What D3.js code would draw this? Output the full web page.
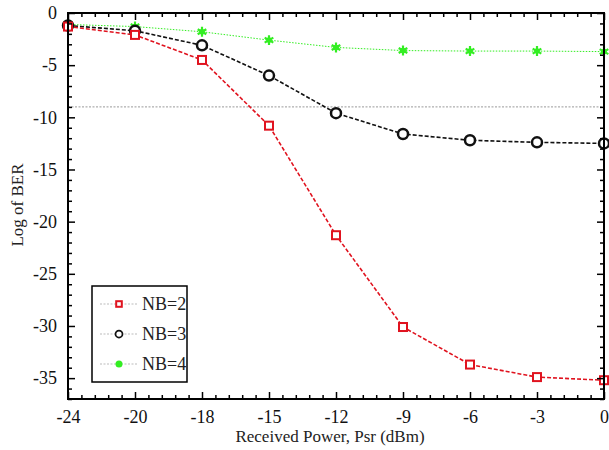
<!DOCTYPE html>
<html>
<head>
<meta charset="utf-8">
<script src="https://cdn.jsdelivr.net/npm/d3@7"></script>
<style>
  body { margin: 0; background: #fff; }
</style>
</head>
<body>
<script>
// chart data
var xLabels = ['-24', '-20', '-18', '-15', '-12', '-9', '-6', '-3', '0'];
var nb2 = [-1.3, -2.1, -4.5, -10.8, -21.3, -30.1, -33.7, -34.9, -35.2];
var nb3 = [-1.2, -1.7, -3.1, -6.0, -9.6, -11.6, -12.2, -12.4, -12.5];
var nb4 = [-1.1, -1.3, -1.8, -2.6, -3.3, -3.6, -3.65, -3.65, -3.7];
var yTicks = [0, -5, -10, -15, -20, -25, -30, -35];
var threshold = -9;
var seriesNames = ['NB=2', 'NB=3', 'NB=4'];

var FONT = 'Liberation Serif, Times New Roman, DejaVu Serif, serif';
var W = 609, H = 450;
var m = {left: 68, right: 5, top: 13, bottom: 51};

var svg = d3.select('body').append('svg').attr('width', W).attr('height', H)
  .style('font-family', FONT);

var x = d3.scalePoint().domain(xLabels).range([m.left, W - m.right]);
var y = d3.scaleLinear().domain([-37, 0]).range([H - m.bottom, m.top]);

var step = x.step();
var xMinor = [];
xLabels.forEach(function(d, i){
  if (i < xLabels.length - 1) for (var k = 1; k < 5; k++) xMinor.push(x(d) + k * step / 5);
});
var yMinor = d3.range(-37, 0, 1).filter(function(v){ return v % 5 !== 0; });

var g = svg.append('g');

// threshold line
g.append('line')
  .attr('x1', m.left).attr('x2', W - m.right)
  .attr('y1', y(threshold)).attr('y2', y(threshold))
  .style('stroke', '#999').style('stroke-width', 1).style('stroke-dasharray', '2,1.5');

// series
var series = [
  {name: seriesNames[0], vals: nb2, color: '#e0131f', dash: '4,2', w: 1.6, marker: 'square'},
  {name: seriesNames[1], vals: nb3, color: '#111', dash: '4,2', w: 1.6, marker: 'circle'},
  {name: seriesNames[2], vals: nb4, color: '#33ee22', dash: '1.5,1.5', w: 1, marker: 'star'}
];

var line = d3.line().x(function(d, i){ return x(xLabels[i]); }).y(function(d){ return y(d); });

series.slice().reverse().forEach(function(s){
  g.append('path').datum(s.vals).attr('d', line)
    .style('fill', 'none').style('stroke', s.color)
    .style('stroke-width', s.w).style('stroke-dasharray', s.dash);
});

function drawMarker(sel, s, px, py, scale){
  if (s.marker === 'square') {
    var a = 8 * scale;
    sel.append('rect').attr('x', px - a/2).attr('y', py - a/2).attr('width', a).attr('height', a)
      .style('fill', '#fff').style('stroke', s.color).style('stroke-width', 2);
  } else if (s.marker === 'circle') {
    sel.append('circle').attr('cx', px).attr('cy', py).attr('r', 5 * scale)
      .style('fill', '#fff').style('stroke', s.color).style('stroke-width', 2.5 * scale);
  } else {
    sel.append('path').attr('transform', 'translate(' + px + ',' + py + ')')
      .attr('d', d3.symbol().type(d3.symbolAsterisk).size(70 * scale * scale))
      .style('fill', 'none').style('stroke', s.color).style('stroke-width', 2.2);
    sel.append('circle').attr('cx', px).attr('cy', py).attr('r', 2.8 * scale).style('fill', s.color);
  }
}

series.slice().reverse().forEach(function(s){
  s.vals.forEach(function(v, i){ drawMarker(g, s, x(xLabels[i]), y(v), 1); });
});

// frame
svg.append('rect').attr('x', m.left).attr('y', m.top)
  .attr('width', W - m.right - m.left).attr('height', H - m.bottom - m.top)
  .style('fill', 'none').style('stroke', '#000').style('stroke-width', 2);

// axes with inward ticks
var fmt = function(d){ return d; };
var ax = svg.append('g');
ax.append('g').attr('transform', 'translate(0,' + (H - m.bottom) + ')')
  .call(d3.axisBottom(x).tickSizeInner(-7).tickSizeOuter(0).tickPadding(11));
ax.append('g').attr('transform', 'translate(0,' + m.top + ')')
  .call(d3.axisTop(x).tickSizeInner(-7).tickSizeOuter(0).tickFormat(''));
ax.append('g').attr('transform', 'translate(' + m.left + ',0)')
  .call(d3.axisLeft(y).tickValues(yTicks).tickSizeInner(-7).tickSizeOuter(0).tickPadding(11).tickFormat(fmt));
ax.append('g').attr('transform', 'translate(' + (W - m.right) + ',0)')
  .call(d3.axisRight(y).tickValues(yTicks).tickSizeInner(-7).tickSizeOuter(0).tickFormat(''));

// minor ticks
var xm = d3.scaleIdentity();
ax.append('g').attr('transform', 'translate(0,' + (H - m.bottom) + ')')
  .call(d3.axisBottom(xm).tickValues(xMinor).tickSizeInner(-4).tickSizeOuter(0).tickFormat(''));
ax.append('g').attr('transform', 'translate(0,' + m.top + ')')
  .call(d3.axisTop(xm).tickValues(xMinor).tickSizeInner(-4).tickSizeOuter(0).tickFormat(''));
ax.append('g').attr('transform', 'translate(' + m.left + ',0)')
  .call(d3.axisLeft(y).tickValues(yMinor).tickSizeInner(-4).tickSizeOuter(0).tickFormat(''));
ax.append('g').attr('transform', 'translate(' + (W - m.right) + ',0)')
  .call(d3.axisRight(y).tickValues(yMinor).tickSizeInner(-4).tickSizeOuter(0).tickFormat(''));

ax.selectAll('g').attr('font-family', null).attr('font-size', null);
ax.selectAll('.domain').remove();
ax.selectAll('line').style('stroke', '#000').style('stroke-width', 1.5);
ax.selectAll('text').style('font-family', FONT).style('font-size', '18px').style('fill', '#111');

// axis titles
svg.append('text').attr('x', 330).attr('y', 442).attr('text-anchor', 'middle')
  .style('font-family', FONT).style('font-size', '17px').style('fill', '#222').text('Received Power, Psr (dBm)');
svg.append('text').attr('transform', 'translate(23,205) rotate(-90)').attr('text-anchor', 'middle')
  .style('font-family', FONT).style('font-size', '17px').style('fill', '#222').text('Log of BER');

// legend
var lg = svg.append('g').attr('transform', 'translate(92,286)');
lg.append('rect').attr('width', 95).attr('height', 96)
  .style('fill', '#fff').style('stroke', '#000').style('stroke-width', 1.5);
series.forEach(function(s, i){
  var yy = 18 + i * 30;
  lg.append('line').attr('x1', 8).attr('x2', 46).attr('y1', yy).attr('y2', yy)
    .style('stroke', '#bbb').style('stroke-width', 1).style('stroke-dasharray', '2,1.5');
  if (s.marker === 'star') {
    lg.append('circle').attr('cx', 27).attr('cy', yy).attr('r', 3.5).style('fill', s.color);
  } else {
    drawMarker(lg, s, 27, yy, 0.7);
  }
  lg.append('text').attr('x', 50).attr('y', yy + 6).style('font-family', FONT)
    .style('font-size', '18px').style('fill', '#222').text(s.name);
});
</script>
</body>
</html>
